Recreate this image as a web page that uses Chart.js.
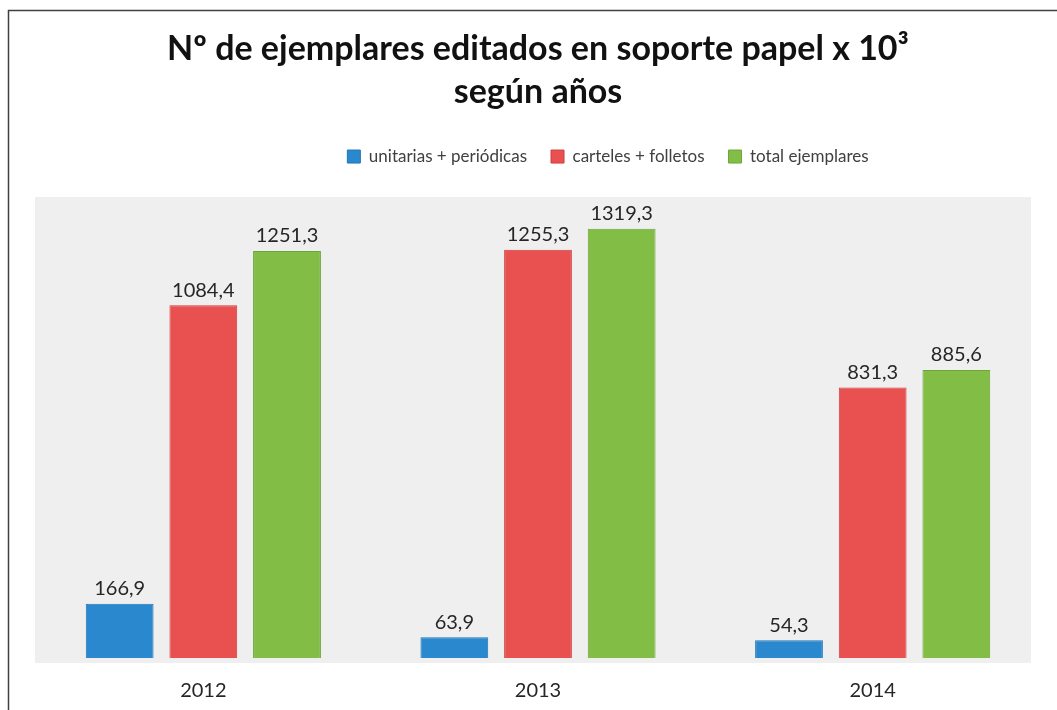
<!DOCTYPE html>
<html>
<head>
<meta charset="utf-8">
<script src="https://cdn.jsdelivr.net/npm/chart.js@4/dist/chart.umd.min.js"></script>
<style>
html,body{margin:0;padding:0;background:#fff;}
#wrap{width:1057px;height:710px;position:relative;}
</style>
</head>
<body>
<div id="wrap"><canvas id="c" width="1057" height="710"></canvas></div>
<script>
const years = ['2012', '2013', '2014'];
const unitariasPeriodicas = [166.9, 63.9, 54.3];
const cartelesFolletos = [1084.4, 1255.3, 831.3];
const totalEjemplares = [1251.3, 1319.3, 885.6];
const seriesNames = ['unitarias + periódicas', 'carteles + folletos', 'total ejemplares'];
const titleLines = ['Nº de ejemplares editados en soporte papel x 10³', 'según años'];

const FONT = 'Lato, "Open Sans", sans-serif';

const bgPlugin = {
  id: 'bg',
  beforeDraw(chart) {
    const {ctx, chartArea: a} = chart;
    ctx.save();
    ctx.fillStyle = '#ffffff';
    ctx.fillRect(0, 0, chart.width, chart.height);
    ctx.fillStyle = '#efefef';
    ctx.fillRect(a.left - 1, a.top, a.right - a.left - 8, a.bottom - a.top + 5);
    ctx.strokeStyle = '#404040';
    ctx.lineWidth = 1.5;
    ctx.strokeRect(8.5, 10.5, 1200, 900);
    ctx.restore();
  }
};

const labelPlugin = {
  id: 'vals',
  afterDatasetsDraw(chart) {
    const {ctx} = chart;
    ctx.save();
    ctx.font = '20px ' + FONT;
    ctx.fillStyle = '#262626';
    ctx.textAlign = 'center';
    ctx.textBaseline = 'bottom';
    chart.data.datasets.forEach((ds, i) => {
      chart.getDatasetMeta(i).data.forEach((bar, j) => {
        ctx.fillText(ds.data[j].toFixed(1).replace('.', ','), bar.x, bar.y - 5);
      });
    });
    ctx.restore();
  }
};

const legendTweak = {
  id: 'legendTweak',
  beforeInit(chart) {
    const lg = chart.legend;
    const fit = lg.fit;
    lg.fit = function () {
      fit.bind(lg)();
      this.height += 22;
    };
    const draw = lg.draw;
    lg.draw = function () {
      const ctx = chart.ctx;
      ctx.save();
      ctx.translate(70, 0);
      draw.apply(lg, arguments);
      ctx.restore();
    };
  }
};

new Chart(document.getElementById('c'), {
  type: 'bar',
  data: {
    labels: years,
    datasets: [
      {label: seriesNames[0], data: unitariasPeriodicas, backgroundColor: '#2a88cf', borderColor: '#1f74b4', borderWidth: 1},
      {label: seriesNames[1], data: cartelesFolletos, backgroundColor: '#e8514f', borderColor: '#cf3c3e', borderWidth: 1},
      {label: seriesNames[2], data: totalEjemplares, backgroundColor: '#82bd46', borderColor: '#6ea538', borderWidth: 1}
    ]
  },
  options: {
    responsive: false,
    animation: false,
    layout: {padding: {left: 36, right: 17, top: 6, bottom: -6}},
    datasets: {bar: {barPercentage: 0.81, categoryPercentage: 0.75}},
    plugins: {
      title: {
        display: true,
        text: titleLines,
        color: '#111',
        font: {family: FONT, size: 34, weight: 'bold', lineHeight: 1.28},
        padding: {top: 21, bottom: 10}
      },
      legend: {
        position: 'top',
        labels: {
          boxWidth: 13, boxHeight: 13, padding: 24,
          color: '#404040',
          font: {family: FONT, size: 17}
        }
      },
      tooltip: {enabled: false}
    },
    scales: {
      x: {
        grid: {display: false},
        border: {display: false},
        ticks: {color: '#262626', font: {family: FONT, size: 20}, padding: 13}
      },
      y: {
        display: false,
        min: 0,
        max: 1417
      }
    }
  },
  plugins: [bgPlugin, labelPlugin, legendTweak]
});
</script>
</body>
</html>
